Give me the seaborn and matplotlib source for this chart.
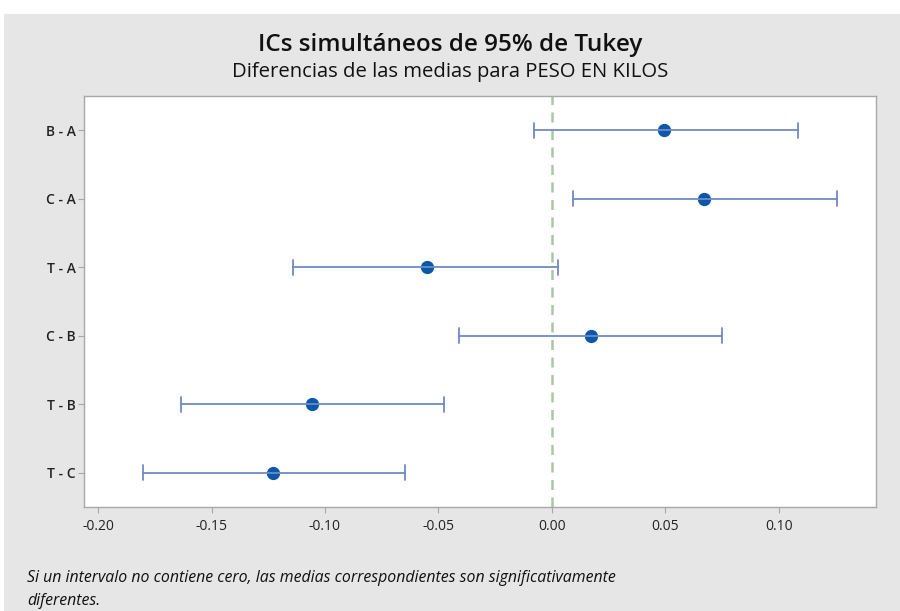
import matplotlib.pyplot as plt
import pandas as pd
import seaborn as sns
from matplotlib.patches import Rectangle

# Tukey simultaneous 95% CIs
pares = ["B - A", "C - A", "T - A", "C - B", "T - B", "T - C"]
inferior = [-0.0080, 0.0093, -0.1140, -0.0407, -0.1635, -0.1803]
centro = [0.0495, 0.0672, -0.0552, 0.0172, -0.1056, -0.1228]
superior = [0.1083, 0.1255, 0.0027, 0.0751, -0.0477, -0.0646]

xticks = [-0.20, -0.15, -0.10, -0.05, 0.00, 0.05, 0.10]

# long form: the median of the three values is the centre, min/max the limits
df = pd.DataFrame({
    "par": pares * 3,
    "valor": inferior + centro + superior,
})
df["par"] = pd.Categorical(df["par"], categories=pares, ordered=True)

sns.set_style("white")
plt.rcParams["font.family"] = ["Open Sans", "DejaVu Sans"]

fig = plt.figure(figsize=(9, 6.11), dpi=100)
fig.patch.set_facecolor("white")
fig.patches.append(Rectangle((4 / 900, 0), 1, 597 / 611, transform=fig.transFigure,
                             facecolor="#e6e6e6", edgecolor="none", zorder=-10))

ax = fig.add_axes([84 / 900, 1 - 507 / 611, 792 / 900, 411 / 611])
ax.set_facecolor("white")

ax.axvline(0, color="#a9c8a2", linestyle=(0, (4, 3)), linewidth=1.8, zorder=1)

sns.pointplot(
    data=df, x="valor", y="par", order=pares,
    estimator="median", errorbar=("pi", 100),
    linestyle="none", capsize=0.22, markers="o", markersize=7.5,
    color="#0b57a8",
    err_kws={"color": "#6f8ac6", "linewidth": 1.3},
    ax=ax,
)

ax.set_xlim(-0.2062, 0.1429)
ax.set_ylim(5.5, -0.5)
ax.set_xticks(xticks)
ax.set_xticklabels([f"{t:.2f}" for t in xticks])
ax.set_xlabel("")
ax.set_ylabel("")

for s in ax.spines.values():
    s.set_color("#a8a8a8")
    s.set_linewidth(1.0)
ax.tick_params(axis="both", which="both", length=4, width=0.8, color="#a8a8a8",
               labelsize=10, labelcolor="#222222", pad=3, direction="out")
ax.tick_params(axis="x", bottom=True, pad=5)
ax.tick_params(axis="y", left=True, pad=2)
for lab in ax.get_yticklabels():
    lab.set_fontweight("semibold")

fig.text(0.5, 1 - 45 / 611, "ICs simultáneos de 95% de Tukey", ha="center", va="center",
         fontsize=17.5, fontweight="semibold", color="#111111")
fig.text(0.5, 1 - 72 / 611, "Diferencias de las medias para PESO EN KILOS", ha="center",
         va="center", fontsize=14.6, color="#111111")

fig.text(27 / 900, 1 - 578 / 611,
         "Si un intervalo no contiene cero, las medias correspondientes son significativamente",
         ha="left", va="center", fontsize=11.4, style="italic", color="#111111")
fig.text(27 / 900, 1 - 601 / 611, "diferentes.", ha="left", va="center", fontsize=11.4,
         style="italic", color="#111111")

fig.savefig("out.png", dpi=100, facecolor=fig.get_facecolor())
